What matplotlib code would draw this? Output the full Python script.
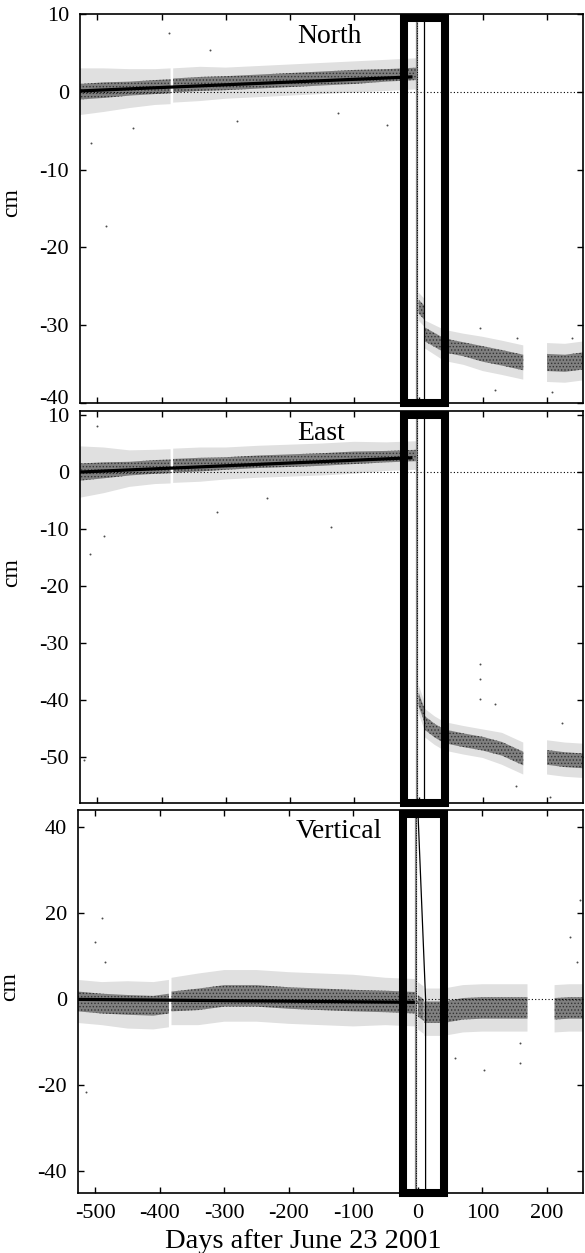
import numpy as np
import matplotlib.pyplot as plt
from matplotlib.patches import Rectangle
import matplotlib.transforms as mtransforms

plt.rcParams['font.family'] = ['Liberation Serif', 'DejaVu Serif']
plt.rcParams['axes.unicode_minus'] = False
plt.rcParams['hatch.linewidth'] = 0.6

nan = np.nan

# daily GPS cloud, summarised: centre, dense core half-width, outer scatter half-width
# nan = gap in the record
pre_days = [-527, -490, -450, -410, -386, nan, -382, -340, -300, -250, -200, -150, -100, -50, -3]

north_pre_mid = [0.0, 0.2, 0.4, 0.6, 0.7, nan, 0.8, 1.0, 1.1, 1.3, 1.5, 1.7, 1.9, 2.1, 2.3]
north_pre_core = [1.0, 1.0, 0.9, 0.9, 0.9, nan, 0.9, 0.9, 0.9, 0.9, 0.9, 0.9, 0.9, 0.8, 0.8]
north_pre_spread = [3.0, 2.8, 2.5, 2.3, 2.3, nan, 2.2, 2.2, 2.0, 2.0, 2.0, 2.0, 2.0, 2.0, 2.0]

east_pre_mid = [0.0, 0.3, 0.6, 0.9, 1.0, nan, 1.1, 1.3, 1.5, 1.8, 2.0, 2.2, 2.5, 2.7, 2.9]
east_pre_core = [1.5, 1.4, 1.2, 1.2, 1.2, nan, 1.2, 1.2, 1.1, 1.1, 1.1, 1.1, 1.1, 1.0, 1.0]
east_pre_spread = [4.5, 4.0, 3.2, 3.0, 3.0, nan, 3.0, 3.0, 2.8, 2.8, 2.8, 2.8, 2.8, 2.5, 2.5]

vert_pre_mid = [-0.5, -1.0, -1.3, -1.5, -1.0, nan, -0.5, 0.0, 0.8, 0.8, 0.3, 0.0, -0.3, -0.5, -0.8]
vert_pre_core = [2.3, 2.3, 2.3, 2.3, 2.3, nan, 2.3, 2.5, 2.5, 2.5, 2.5, 2.5, 2.5, 2.5, 2.5]
vert_pre_spread = [5.0, 5.0, 5.5, 5.5, 5.5, nan, 5.5, 6.0, 6.0, 6.0, 6.0, 6.0, 6.0, 5.5, 5.5]

north_post_days = [0, 9, nan, 10, 40, 70, 100, 130, 163, nan, 200, 228, 256]
north_post_mid = [-27.6, -28.4, nan, -31.2, -32.6, -33.1, -33.7, -34.2, -34.8, nan, -34.8, -34.9, -34.6]
north_post_core = [0.9, 0.9, nan, 0.9, 0.9, 0.9, 1.0, 1.0, 1.0, nan, 1.1, 1.1, 1.1]
north_post_spread = [1.8, 1.8, nan, 1.8, 2.0, 2.0, 2.2, 2.2, 2.2, nan, 2.5, 2.5, 2.5]

east_post_days = [0, 9, nan, 10, 25, 40, 70, 100, 130, 163, nan, 200, 228, 256]
east_post_mid = [-39.8, -42.6, nan, -44.0, -45.3, -46.3, -47.0, -47.6, -48.5, -50.2, nan, -50.0, -50.4, -50.6]
east_post_core = [1.2, 1.2, nan, 1.2, 1.2, 1.2, 1.2, 1.2, 1.2, 1.2, nan, 1.3, 1.3, 1.3]
east_post_spread = [2.5, 2.5, nan, 2.5, 2.5, 2.5, 2.5, 2.5, 2.8, 2.8, nan, 3.0, 3.0, 3.0]

vert_post_days = [0, 9, nan, 10, 40, 70, 100, 130, 170, nan, 212, 235, 256]
vert_post_mid = [-1.5, -2.5, nan, -3.0, -3.0, -2.2, -2.0, -2.0, -2.0, nan, -2.2, -2.0, -2.0]
vert_post_core = [2.5, 2.5, nan, 2.5, 2.5, 2.5, 2.5, 2.5, 2.5, nan, 2.5, 2.5, 2.5]
vert_post_spread = [5.5, 5.5, nan, 5.5, 5.5, 5.5, 5.5, 5.5, 5.5, nan, 5.5, 5.5, 5.5]

# scattered outliers
north_out_days = [-510, -444, -283, -389, -324, -487, -125, -49, 96, 153, 119, 208, 239]
north_out_vals = [-6.6, -4.7, -3.8, 7.5, 5.3, -17.3, -2.7, -4.3, -30.4, -31.6, -38.3, -38.6, -31.6]
east_out_days = [-511, -521, -490, -313, -500, -236, -137, 96, 96, 96, 119, 151, 224, 205]
east_out_vals = [-14.3, -50.5, -11.2, -7.0, 8.0, -4.5, -9.7, -33.6, -36.2, -39.7, -40.7, -55.0, -44.0, -57.0]
vert_out_days = [-500, -490, -485, -514, 158, 158, 103, 236, 246, 251, 57]
vert_out_vals = [13.3, 18.8, 8.6, -21.6, -10.2, -14.9, -16.5, 14.4, 8.6, 23.0, -13.7]

# linear fits to pre-event data
north_fit_days = [-527, -12]
north_fit = [0.1, 1.9]
east_fit_days = [-527, -12]
east_fit = [0.0, 2.5]
vert_fit_days = [-540, -3]
vert_fit = [0.0, -0.7]

panels = [
    ('North', pre_days, north_pre_mid, north_pre_core, north_pre_spread,
     north_post_days, north_post_mid, north_post_core, north_post_spread,
     north_out_days, north_out_vals, north_fit_days, north_fit,
     (-40, 10), [10, 0, -10, -20, -30, -40]),
    ('East', pre_days, east_pre_mid, east_pre_core, east_pre_spread,
     east_post_days, east_post_mid, east_post_core, east_post_spread,
     east_out_days, east_out_vals, east_fit_days, east_fit,
     (-58, 10.7), [10, 0, -10, -20, -30, -40, -50]),
    ('Vertical', pre_days, vert_pre_mid, vert_pre_core, vert_pre_spread,
     vert_post_days, vert_post_mid, vert_post_core, vert_post_spread,
     vert_out_days, vert_out_vals, vert_fit_days, vert_fit,
     (-45, 44), [40, 20, 0, -20, -40]),
]

rects = [[0.1368, 0.6784, 0.8598, 0.3105],
         [0.1368, 0.3591, 0.8598, 0.3129],
         [0.1333, 0.0479, 0.8632, 0.3057]]
label_y = [0.514, 0.587, 0.538]

fig = plt.figure(figsize=(5.85, 12.53), dpi=100)


def draw_cloud(ax, days, mid, core, spread):
    days = np.array(days, float)
    mid = np.array(mid, float)
    core = np.array(core, float)
    spread = np.array(spread, float)
    ax.fill_between(days, mid - spread, mid + spread, facecolor='0.88', edgecolor='none', lw=0, zorder=1)
    ax.fill_between(days, mid - core, mid + core, facecolor='0.5', edgecolor='0.2',
                    hatch='.....', lw=0, zorder=2)


for i, p in enumerate(panels):
    (name, pd_, pm, pc, ps, qd, qm, qc, qs, od, ov, fd, fv, ylim, yticks) = p
    ax = fig.add_axes(rects[i])
    draw_cloud(ax, pd_, pm, pc, ps)
    draw_cloud(ax, qd, qm, qc, qs)
    ax.scatter(od, ov, s=2, color='0.3', lw=0, zorder=2)
    ax.plot(fd, fv, color='black', lw=2.3, zorder=3)
    ax.axhline(0, color='black', ls=(0, (1, 2)), lw=0.8, zorder=3)

    # event markers
    ax.axvline(-3, color='0.5', lw=1.6, zorder=4)
    ax.axvline(-3, color='black', ls=(0, (1, 1.5)), lw=0.7, zorder=4)
    if name == 'Vertical':
        ax.plot([0, 12, 12], [44, 0, -45], color='black', lw=0.9, zorder=4)
    else:
        ax.axvline(9, color='black', lw=0.9, zorder=4)

    trans = mtransforms.blended_transform_factory(ax.transData, ax.transAxes)
    ax.add_patch(Rectangle((-22.5, 0.0), 63, 0.99, transform=trans, fill=False,
                           lw=5.8, edgecolor='black', joinstyle='miter',
                           clip_on=False, zorder=6))

    ax.set_xlim(-527, 256)
    ax.set_ylim(ylim)
    ax.set_xticks([-500, -400, -300, -200, -100, 0, 100, 200])
    ax.set_yticks(yticks)
    ax.tick_params(direction='in', top=True, right=True, length=4, width=1,
                   labelsize=16, pad=8)
    if i < 2:
        ax.tick_params(labelbottom=False)
    for s in ax.spines.values():
        s.set_linewidth(1.2)

    if i == 0:
        # bottom label sits a little higher, as in the original
        lab = ax.get_yticklabels()[-1]
        lab.set_transform(lab.get_transform() +
                          mtransforms.ScaledTranslation(0, 6 / 100, fig.dpi_scale_trans))

    ax.set_ylabel('cm', fontsize=17)
    ax.yaxis.set_label_coords(-0.115, label_y[i])
    ax.text(0.431, 0.926, name, transform=ax.transAxes, fontsize=20,
            ha='left', va='baseline', zorder=7)

fig.text(303 / 585, 1 - 1248 / 1253, 'Days after June 23 2001', fontsize=20.5,
         ha='center', va='baseline')

plt.savefig('out.png', dpi=100)
